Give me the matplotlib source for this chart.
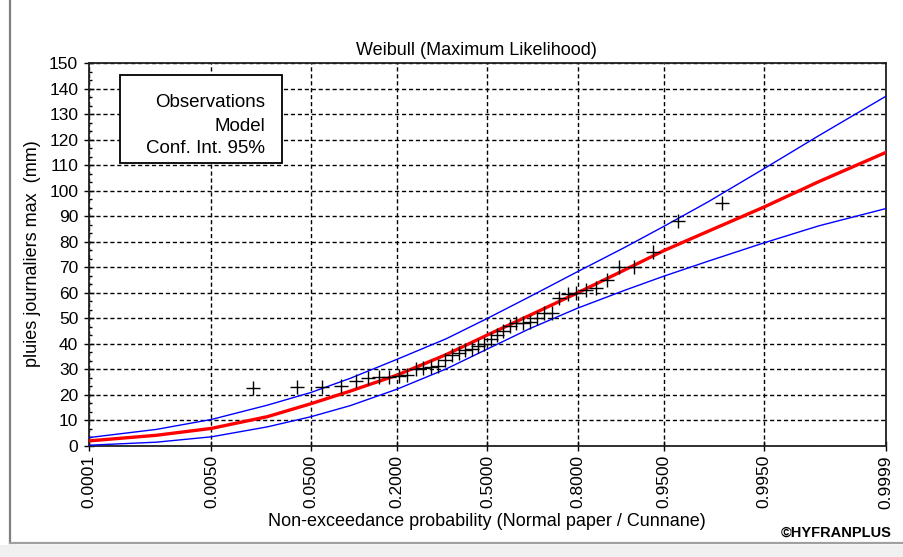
import numpy as np
import matplotlib
matplotlib.use("Agg")
import matplotlib.pyplot as plt
from matplotlib.patches import Rectangle
from matplotlib.lines import Line2D
from matplotlib.ticker import AutoMinorLocator, NullLocator, FixedLocator
from statistics import NormalDist

plt.rcParams['font.family'] = ['Liberation Sans', 'DejaVu Sans']

# pluies journalieres max (mm), triees
obs = [22.8, 23.2, 23.2, 23.5, 25.5, 26.5, 27.0, 27.0, 27.5, 28.0,
       30.0, 30.5, 31.0, 31.5, 33.5, 35.5, 36.5, 37.5, 38.0, 39.0,
       40.0, 42.0, 43.5, 45.0, 47.0, 48.0, 48.0, 48.5, 50.0, 52.0,
       52.0, 58.0, 59.5, 60.0, 61.0, 62.0, 65.0, 70.0, 70.0, 76.0,
       88.0, 95.0]

# ajustement Weibull et intervalle de confiance 95%
p_curve = [0.0001, 0.001, 0.005, 0.02, 0.05, 0.1, 0.2, 0.35, 0.5, 0.65,
           0.8, 0.9, 0.95, 0.98, 0.995, 0.999, 0.9999]
model = [2.0, 4.2, 6.9, 11.5, 16.6, 21.5, 27.8, 35.8, 43.5, 51.0,
         60.0, 69.0, 76.5, 84.0, 93.5, 103.5, 115.0]
upper = [3.3, 6.5, 10.4, 16.0, 21.0, 26.5, 34.0, 42.0, 50.0, 58.3,
         68.3, 77.8, 86.0, 95.5, 108.5, 121.5, 137.0]
lower = [0.3, 1.5, 3.6, 7.5, 11.5, 15.8, 22.3, 30.2, 38.0, 45.8,
         54.0, 61.0, 66.5, 72.3, 79.5, 86.2, 93.0]

x_ticks = [0.0001, 0.005, 0.05, 0.2, 0.5, 0.8, 0.95, 0.995, 0.9999]
legend_lines = ["Observations", "Model", "Conf. Int. 95%"]

# positions de Cunnane
n = len(obs)
p_obs = (np.arange(1, n + 1) - 0.4) / (n + 0.2)

# papier normal
_nd = NormalDist()


def to_normal(p):
    p = np.clip(np.asarray(p, dtype=float), 1e-12, 1 - 1e-12)
    return np.vectorize(_nd.inv_cdf, otypes=[float])(p)


def from_normal(z):
    z = np.asarray(z, dtype=float)
    return np.vectorize(_nd.cdf, otypes=[float])(z)


W, H = 904, 557
fig = plt.figure(figsize=(W / 100, H / 100), dpi=100)
ax = fig.add_axes([89 / W, 1 - 446 / H, 797 / W, 383 / H])

ax.set_xscale('function', functions=(to_normal, from_normal))
ax.set_xlim(0.0001, 0.9999)
ax.set_ylim(0, 150)

ax.xaxis.set_major_locator(FixedLocator(x_ticks))
ax.set_xticklabels(["%.4f" % v for v in x_ticks], rotation=90, fontsize=12.5)
ax.xaxis.set_minor_locator(NullLocator())
ax.set_yticks(np.arange(0, 151, 10))
ax.yaxis.set_minor_locator(AutoMinorLocator(3))
ax.tick_params(axis='y', which='major', direction='inout', length=6.5,
               width=1.0, labelsize=12.5, pad=4.5)
ax.tick_params(axis='y', which='minor', direction='in', length=2.5, width=1.0)
ax.tick_params(axis='x', which='major', direction='inout', length=7,
               width=1.0, pad=3)

ax.set_axisbelow(True)
ax.grid(True, which='major', color='black', linestyle=(0, (3, 2)),
        linewidth=1.0)
for s in ax.spines.values():
    s.set_linewidth(1.3)
    s.set_color('#202020')

ax.plot(p_curve, upper, color='#0000ff', lw=1.0, zorder=3)
ax.plot(p_curve, lower, color='#0000ff', lw=1.0, zorder=3)
ax.plot(p_curve, model, color='#ff0000', lw=2.4, zorder=3)
ax.plot(p_obs, obs, '+', color='black', ms=10, mew=1.0, zorder=4)

# cadre de legende
ax.add_patch(Rectangle((0.0389, 0.7389), 0.2033, 0.2298, transform=ax.transAxes,
                       facecolor='white', edgecolor='black', lw=1.3, zorder=5))
for txt, yy in zip(legend_lines, [0.8975, 0.8347, 0.7757]):
    ax.text(0.2208, yy, txt, transform=ax.transAxes, ha='right', va='center',
            fontsize=13.5, zorder=6)

fig.text(476.7 / W, 1 - 55 / H, "Weibull (Maximum Likelihood)", ha='center',
         va='baseline', fontsize=13)
fig.text(33 / W, 1 - 254 / H, "pluies journaliers max  (mm)", rotation=90,
         ha='center', va='center', fontsize=13)
fig.text(486.5 / W, 1 - 522 / H,
         "Non-exceedance probability (Normal paper / Cunnane)",
         ha='center', va='center', fontsize=13)
fig.text(892 / W, 1 - 533 / H, "\u00a9HYFRANPLUS", ha='right', va='center',
         fontsize=10.5, fontweight='bold')

# bordure de fenetre
fig.add_artist(Rectangle((0, 0), 1, 12 / H, transform=fig.transFigure,
                         facecolor='#f0f0f0', edgecolor='none'))
fig.add_artist(Line2D([10 / W, 10 / W], [1 - 543 / H, 1], transform=fig.transFigure,
                      color='#808080', lw=1.6))
fig.add_artist(Line2D([10 / W, 1], [1 - 543 / H, 1 - 543 / H],
                      transform=fig.transFigure, color='#a0a0a0', lw=1.6))

fig.savefig("out.png", dpi=100)
